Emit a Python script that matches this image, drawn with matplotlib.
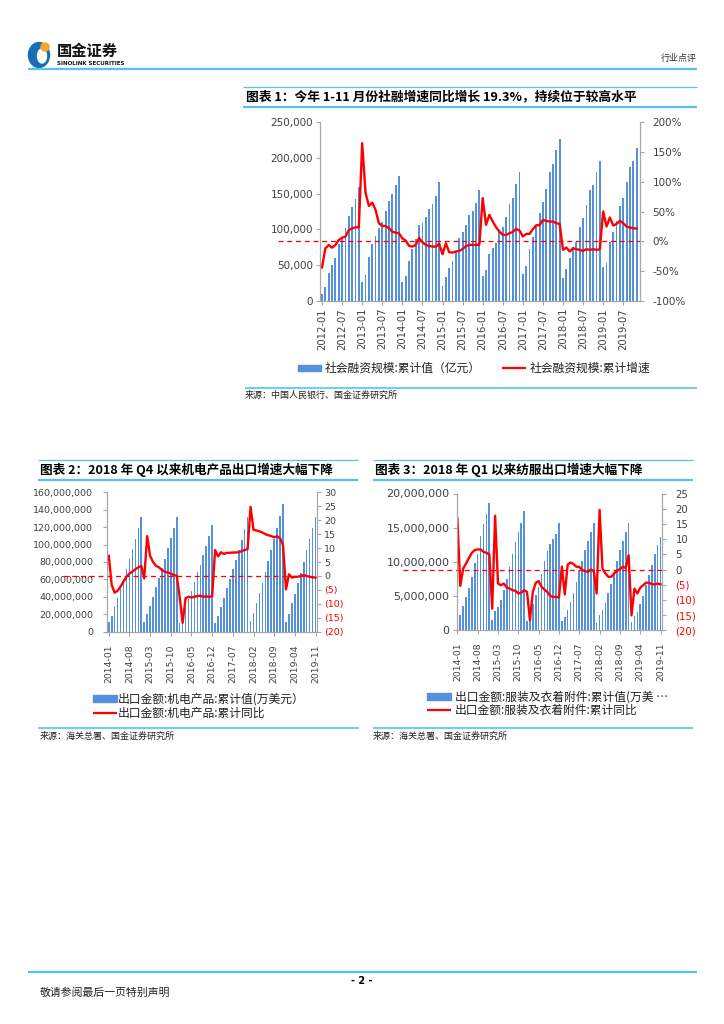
import matplotlib
matplotlib.use('Agg')
import matplotlib.pyplot as plt
from matplotlib.patches import Rectangle, Ellipse
from matplotlib.lines import Line2D
import pandas as pd

plt.rcParams['font.family'] = ['DejaVu Sans', 'Noto Sans CJK SC']
CJK = ['Noto Sans CJK SC', 'DejaVu Sans']

# ---------------- data ----------------
# chart 1: social financing, 2012-01 .. 2019-11
months1 = pd.date_range('2012-01', '2019-11', freq='MS').strftime('%Y-%m').tolist()
sf_value = [
    9700, 19000, 39600, 49800, 60500, 79000, 89000, 101500, 118700, 131700, 143000, 159700,
    26500, 36800, 62000, 79000, 91000, 101500, 110000, 125700, 139700, 149000, 162000, 174600,
    27000, 35400, 56300, 72200, 86600, 106000, 109500, 117800, 129000, 135500, 146700, 165800,
    21400, 34000, 46000, 56300, 68000, 88500, 96000, 106000, 120000, 126000, 136400, 155000,
    35000, 43000, 65600, 73600, 80500, 97800, 103000, 117000, 135000, 143500, 163500, 180300,
    37700, 49000, 72600, 89400, 106000, 123400, 138800, 156500, 179700, 191400, 210500, 226400,
    31700, 44200, 60000, 75400, 83000, 103000, 116000, 134000, 155000, 162500, 180300, 195000,
    47000, 53500, 83000, 96400, 111700, 132200, 143900, 165800, 187600, 195600, 213700]
sf_growth = [
    -43.6, -11.7, -6.2, -10.6, -6.2, 2.2, 6.2, 7.8, 19.0, 21.8, 23.5, 23.5,
    164.5, 81.7, 59.3, 64.9, 52.6, 30.2, 25.7, 25.7, 21.8, 16.2, 14.5, 13.4,
    5.0, 1.3, -7.6, -8.8, -6.0, 5.8, -1.5, -6.0, -7.6, -8.8, -8.8, -4.3,
    -21.6, -3.2, -18.3, -18.8, -17.1, -16.0, -13.0, -8.0, -6.0, -6.0, -6.0, -5.5,
    72.4, 27.6, 44.4, 33.2, 23.7, 16.4, 10.8, 10.8, 13.6, 15.9, 20.9, 18.1,
    8.0, 12.5, 12.5, 20.3, 27.0, 27.0, 36.0, 34.3, 33.2, 33.2, 30.4, 29.2,
    -14.3, -10.4, -17.1, -11.5, -13.2, -14.3, -16.0, -13.2, -14.3, -13.2, -14.3, -13.2,
    50.0, 24.8, 39.9, 26.5, 29.2, 34.3, 30.4, 24.8, 23.1, 22.0, 21.4]

# charts 2 and 3: exports, 2014-01 .. 2019-11
months2 = pd.date_range('2014-01', '2019-11', freq='MS').strftime('%Y-%m').tolist()
me_value = [
    11.5e6, 18.4e6, 28e6, 39e6, 50.5e6, 61e6, 72e6, 83.5e6, 95e6, 106e6, 119e6, 132e6,
    11.5e6, 20e6, 30e6, 40e6, 51e6, 62e6, 73e6, 84e6, 96e6, 107e6, 119e6, 132e6,
    9.5e6, 17e6, 28.7e6, 37e6, 46.7e6, 57e6, 68e6, 76.5e6, 88e6, 98e6, 110e6, 122e6,
    9.5e6, 18e6, 28.7e6, 39e6, 50e6, 60e6, 71.6e6, 82e6, 94e6, 105e6, 118e6, 132e6,
    12e6, 21e6, 33e6, 44e6, 56e6, 68e6, 81e6, 94e6, 106e6, 119e6, 133e6, 147e6,
    11.5e6, 20e6, 32.5e6, 43e6, 55.5e6, 67e6, 80e6, 94e6, 106e6, 119e6, 132e6]
me_growth = [
    7.2, -3.3, -6.0, -5.3, -3.8, -2.0, -0.3, 0.9, 1.5, 2.4, 3.1, 3.6,
    -0.9, 14.3, 7.2, 5.0, 3.6, 3.1, 2.1, 1.5, 1.2, 0.9, 0.3, 0.1,
    -7.5, -16.8, -8.0, -7.5, -7.7, -7.5, -7.2, -7.1, -7.5, -7.3, -7.5, -7.3,
    9.3, 7.0, 8.5, 7.9, 8.3, 8.3, 8.4, 8.4, 8.5, 8.9, 9.3, 9.6,
    24.8, 16.5, 16.3, 16.0, 15.6, 15.0, 14.6, 14.3, 13.9, 14.2, 13.5, 11.0,
    -4.8, 0.6, -0.6, -0.3, -0.3, 0.0, 0.3, 0.0, -0.3, -0.5, -0.6]
ap_value = [
    1.7e6, 2.3e6, 3.5e6, 4.8e6, 6.2e6, 7.8e6, 9.8e6, 11.1e6, 13.8e6, 15.5e6, 17.0e6, 18.6e6,
    1.5e6, 2.8e6, 3.4e6, 4.5e6, 5.9e6, 7.5e6, 9.3e6, 11.1e6, 12.9e6, 14.4e6, 15.7e6, 17.4e6,
    1.3e6, 2.4e6, 3.9e6, 5.2e6, 6.4e6, 8.3e6, 10.1e6, 11.6e6, 12.6e6, 13.3e6, 14.1e6, 15.7e6,
    1.3e6, 2.0e6, 2.9e6, 4.2e6, 5.5e6, 7.0e6, 8.6e6, 10.2e6, 11.7e6, 13.0e6, 14.4e6, 15.7e6,
    1.1e6, 2.3e6, 2.9e6, 4.0e6, 5.4e6, 6.7e6, 8.5e6, 10.2e6, 11.7e6, 13.1e6, 14.4e6, 15.7e6,
    1.2e6, 2.1e6, 2.7e6, 3.8e6, 5.0e6, 6.6e6, 8.1e6, 9.6e6, 11.1e6, 12.4e6, 13.7e6]
ap_growth = [
    16.8, -5.4, 0.3, 2.0, 3.8, 5.5, 6.4, 6.6, 6.6, 5.8, 5.5, 4.9,
    -12.9, 17.7, -4.6, -5.2, -4.6, -5.9, -6.3, -6.8, -7.0, -7.9, -7.6, -6.8,
    -7.4, -16.7, -7.4, -4.4, -3.8, -5.7, -6.6, -7.4, -8.7, -9.0, -9.0, -9.2,
    1.0, -8.2, 1.6, 2.3, 1.8, 0.9, 0.9, -0.2, -0.5, -0.8, 0.0, -0.5,
    -7.9, 19.6, 0.3, -1.3, -2.4, -2.4, -1.3, -0.5, 0.1, 0.9, 0.5, 4.7,
    -15.1, -6.3, -7.9, -6.0, -5.2, -4.3, -4.4, -4.8, -4.9, -4.6, -4.9]

# ---------------- styles ----------------
BAR = '#5590dd'
RED = '#ff0000'
SKY = '#55c3f2'
AXC = '#a6a6a6'
TXT = '#404040'

W, H = 724, 1024
fig = plt.figure(figsize=(7.24, 10.24), dpi=100)

def fx(x):
    return x / W

def fy(y):
    return 1 - y / H

def box(x0, y0, x1, y1):
    return [fx(x0), fy(y1), (x1 - x0) / W, (y1 - y0) / H]

def hline(x0, x1, y, color=SKY, lw=1.4):
    fig.add_artist(Line2D([fx(x0), fx(x1)], [fy(y), fy(y)], transform=fig.transFigure,
                          color=color, lw=lw, solid_capstyle='butt'))

def text(x, y, s, size, **kw):
    kw.setdefault('family', CJK)
    kw.setdefault('va', 'center')
    fig.text(fx(x), fy(y), s, fontsize=size, **kw)

def style(ax, axr):
    for a in (ax, axr):
        a.spines['top'].set_visible(False)
        for s in ('left', 'right', 'bottom'):
            a.spines[s].set_color(AXC)
            a.spines[s].set_linewidth(0.8)
    axr.patch.set_visible(False)

def paren_labels(axr, ticks):
    axr.set_yticks(ticks)
    axr.set_yticklabels([str(t) if t >= 0 else '(%d)' % -t for t in ticks])
    for t, lab in zip(ticks, axr.get_yticklabels()):
        lab.set_color(RED if t < 0 else TXT)

# ---------------- page header / footer ----------------
fig.add_artist(Ellipse((fx(39), fy(55)), 21 / W, 25 / H, transform=fig.transFigure, color='#1a6db5'))
fig.add_artist(Ellipse((fx(42), fy(56)), 9 / W, 14 / H, transform=fig.transFigure, color='white'))
fig.add_artist(Ellipse((fx(45), fy(47)), 8 / W, 8 / H, transform=fig.transFigure, color='#f5a623'))
text(57, 51, '国金证券', 11, weight='bold', color='#111111')
text(57, 63.5, 'SINOLINK SECURITIES', 4, weight='bold', family=['DejaVu Sans'], color='#111111')
text(661, 58, '行业点评', 6.5, color='#333333')
hline(28, 697, 69, lw=1.6)

hline(28, 697, 972, lw=1.6)
text(362, 981, '- 2 -', 7, weight='bold', ha='center', family=['DejaVu Sans'])
text(40, 993, '敬请参阅最后一页特别声明', 7.8, color='#222222')

# ---------------- chart 1 ----------------
hline(243, 697, 87, lw=0.9)
hline(243, 697, 107, lw=1.6)
text(246, 97, '图表 1：今年 1-11 月份社融增速同比增长 19.3%，持续位于较高水平', 9.2, weight='bold')

n1 = len(sf_value)
ax1 = fig.add_axes(box(320, 122, 640, 301))
ax1.bar(range(n1), sf_value, width=0.55, color=BAR, linewidth=0)
ax1.set_xlim(-0.6, n1)
ax1.set_ylim(0, 250000)
yt = list(range(0, 250001, 50000))
ax1.set_yticks(yt)
ax1.set_yticklabels(['{:,}'.format(v) for v in yt])
ax1.set_xticks(range(0, n1, 6))
ax1.set_xticklabels(months1[::6], rotation=90)
ax1.tick_params(axis='y', length=3, width=0.8, color=AXC, labelsize=7.5, labelcolor=TXT, pad=2)
ax1.tick_params(axis='x', length=3, width=0.8, color=AXC, labelsize=7.2, labelcolor=TXT, pad=2)
ax1r = ax1.twinx()
ax1r.set_ylim(-100, 200)
rt = list(range(-100, 201, 50))
ax1r.set_yticks(rt)
ax1r.set_yticklabels(['%d%%' % v for v in rt])
ax1r.tick_params(axis='y', length=3, width=0.8, color=AXC, labelsize=7.5, labelcolor=TXT, pad=6)
ax1r.axhline(0, xmin=-0.131, xmax=1, color=RED, lw=0.9, ls=(0, (4, 3)), clip_on=False)
ax1r.plot(range(n1), sf_growth, color=RED, lw=1.7)
style(ax1, ax1r)

fig.add_artist(Rectangle((fx(298), fy(371)), 23 / W, 6 / H, transform=fig.transFigure, color=BAR))
text(325, 368, '社会融资规模:累计值（亿元）', 8.5, color='#222222')
hline(502, 526, 368, color=RED, lw=1.6)
text(530, 368, '社会融资规模:累计增速', 8.5, color='#222222')
hline(245, 697, 387.5, lw=1.2)
text(245, 395, '来源：中国人民银行、国金证券研究所', 6.5, color='#222222')

# ---------------- charts 2 and 3 ----------------
def export_chart(x0, x1, y0, y1, values, growth, vmax, vstep, gmin, gmax,
                 vsize, gsize, vpad, gpad, dash_x, xlim):
    n = len(values)
    ax = fig.add_axes(box(x0, y0, x1, y1))
    ax.bar(range(n), values, width=0.55, color=BAR, linewidth=0)
    ax.set_xlim(*xlim)
    ax.set_ylim(0, vmax)
    t = [i * vstep for i in range(int(round(vmax / vstep)) + 1)]
    ax.set_yticks(t)
    ax.set_yticklabels(['{:,}'.format(int(v)) for v in t])
    ax.set_xticks(range(0, n, 7))
    ax.set_xticklabels(months2[::7], rotation=90)
    ax.tick_params(axis='y', length=3, width=0.8, color=AXC, labelsize=vsize, labelcolor=TXT, pad=vpad)
    ax.tick_params(axis='x', length=3, width=0.8, color=AXC, labelsize=6.7, labelcolor=TXT, pad=6)
    axr = ax.twinx()
    axr.set_ylim(gmin, gmax)
    paren_labels(axr, list(range(gmin, gmax + 1, 5)))
    axr.tick_params(axis='y', length=3, width=0.8, color=AXC, labelsize=gsize, pad=gpad)
    axr.axhline(0, xmin=(dash_x - x0) / (x1 - x0), xmax=1, color=RED, lw=0.9,
                ls=(0, (4, 3)), clip_on=False)
    axr.plot(range(n), growth, color=RED, lw=1.7)
    style(ax, axr)
    return ax, axr

# chart 2
hline(38, 358, 459.5, lw=0.9)
hline(38, 358, 479.5, lw=1.6)
text(40, 469.5, '图表 2：2018 年 Q4 以来机电产品出口增速大幅下降', 9.1, weight='bold')
export_chart(107.3, 317.3, 492.3, 631.7, me_value, me_growth, 160e6, 20e6, -20, 30,
             6.8, 6.8, 7, 2, 63, (-0.5, 70.6))
fig.add_artist(Rectangle((fx(93), fy(702)), 24 / W, 7 / H, transform=fig.transFigure, color=BAR))
text(118, 698.7, '出口金额:机电产品:累计值(万美元）', 8.5, color='#222222')
hline(93, 117, 713.3, color=RED, lw=1.6)
text(118, 713.3, '出口金额:机电产品:累计同比', 8.5, color='#222222')
hline(38, 359, 727.5, lw=1.2)
text(40, 736.5, '来源：海关总署、国金证券研究所', 6.5, color='#222222')

# chart 3
hline(373, 693, 459.5, lw=0.9)
hline(373, 693, 479.5, lw=1.6)
text(375, 469.5, '图表 3：2018 年 Q1 以来纺服出口增速大幅下降', 9.1, weight='bold')
export_chart(456.5, 661.7, 493.5, 630.3, ap_value, ap_growth, 20e6, 5e6, -20, 25,
             8, 7.3, 2, 7, 403, (-0.3, 70.4))
fig.add_artist(Rectangle((fx(427), fy(700)), 24 / W, 7 / H, transform=fig.transFigure, color=BAR))
text(455, 696.7, '出口金额:服装及衣着附件:累计值(万美 …', 8.5, color='#222222')
hline(427, 451, 710, color=RED, lw=1.6)
text(455, 710, '出口金额:服装及衣着附件:累计同比', 8.5, color='#222222')
hline(373, 693, 727.5, lw=1.2)
text(373, 736.5, '来源：海关总署、国金证券研究所', 6.5, color='#222222')

fig.savefig('out.png', dpi=100)
